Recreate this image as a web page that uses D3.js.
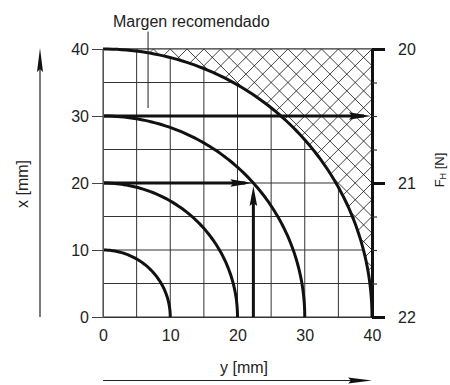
<!DOCTYPE html>
<html><head><meta charset="utf-8">
<script src="https://cdn.jsdelivr.net/npm/d3@7"></script>
<style>
body{margin:0;background:#fff}
text{font-family:"Liberation Sans",Arial,sans-serif;fill:#222}
</style>
</head><body><svg id="c" width="450" height="385"></svg>
<script>
// ---- data ----
const radii = [10, 20, 30, 40];
const gridValues = [0, 5, 10, 15, 20, 25, 30, 35, 40];
const yTickValues = [0, 10, 20, 30, 40];   // horizontal axis "y [mm]"
const xTickValues = [0, 10, 20, 30, 40];   // vertical axis "x [mm]"
const fhTickValues = [20, 21, 22];
const fhMinorValues = [20.25, 20.5, 20.75, 21.25, 21.5, 21.75];
const readX = [30, 20];          // horizontal reading arrows at x
const readYEnd = [40, 22.36];    // where they end (y)
const exampleY = [22.36];        // vertical reading arrow at y
const exampleXEnd = [20];
const hatchStep = 2.5;
const marginLabel = "Margen recomendado";
const pointerY = [6.7];
const pointerX = [31.2, 42.6];

// ---- scales ----
const sy = d3.scaleLinear().domain([0, 40]).range([103, 372]);
const sx = d3.scaleLinear().domain([0, 40]).range([317, 49]);
const fh = d3.scaleLinear().domain([20, 22]).range([49, 317]);

const svg = d3.select("#c");
const ink = "#111";

// grid
const g = svg.append("g").attr("stroke", "#333").attr("stroke-width", 1);
gridValues.forEach(v => {
  g.append("line").attr("x1", sy(v)).attr("x2", sy(v)).attr("y1", sx(0)).attr("y2", sx(40));
  g.append("line").attr("y1", sx(v)).attr("y2", sx(v)).attr("x1", sy(0)).attr("x2", sy(40));
});

// hatched region (outside circle of radius 40, inside square)
const R = d3.max(radii);
const angles = d3.range(0, 91, 1).map(a => a * Math.PI / 180);
const arcPts = angles.map(t => [R * Math.sin(t), R * Math.cos(t)]); // [y, x]
const regionPts = [[0, 40], [40, 40], [40, 0]].concat(arcPts.slice().reverse());
const toPx = p => [sy(p[0]), sx(p[1])];
const regionPath = d3.line()(regionPts.map(toPx)) + "Z";
svg.append("clipPath").attr("id", "hclip").append("path").attr("d", regionPath);
svg.append("path").attr("d", regionPath).attr("fill", "#fff");
const hg = svg.append("g").attr("clip-path", "url(#hclip)").attr("stroke", ink).attr("stroke-width", 0.8);
for (let k = -20; k <= 20; k++) {
  const d1 = k * hatchStep;
  hg.append("line").attr("x1", sy(-10)).attr("y1", sx(-10 + d1)).attr("x2", sy(50)).attr("y2", sx(50 + d1));
}
for (let k = 0; k <= 40; k++) {
  const s = k * hatchStep;
  hg.append("line").attr("x1", sy(-10)).attr("y1", sx(s + 10)).attr("x2", sy(50)).attr("y2", sx(s - 50));
}
// top border across hatch
svg.append("line").attr("x1", sy(0)).attr("x2", sy(40)).attr("y1", sx(40)).attr("y2", sx(40))
  .attr("stroke", "#333").attr("stroke-width", 1);

// circles
const lineGen = d3.line().x(d => sy(d[0])).y(d => sx(d[1]));
radii.forEach(r => {
  const pts = angles.map(t => [r * Math.sin(t), r * Math.cos(t)]);
  svg.append("path").attr("d", lineGen(pts)).attr("fill", "none")
    .attr("stroke", ink).attr("stroke-width", 3);
});

// arrowhead helper (pixel tip, direction)
function head(tx, ty, dx, dy, len, w) {
  const bx = tx - dx * len, by = ty - dy * len;
  const nx = -dy, ny = dx;
  return `M${tx},${ty}L${bx + nx * w},${by + ny * w}L${bx + dx * 3},${by + dy * 3}L${bx - nx * w},${by - ny * w}Z`;
}

// reading arrows
readX.forEach((xv, i) => {
  const x1 = sy(0), x2 = sy(readYEnd[i]), yy = sx(xv);
  svg.append("line").attr("x1", x1).attr("x2", x2 - 8).attr("y1", yy).attr("y2", yy)
    .attr("stroke", ink).attr("stroke-width", 3);
  svg.append("path").attr("d", head(x2 - 1, yy, 1, 0, 22, 3.8)).attr("fill", ink);
});
exampleY.forEach((yv, i) => {
  const xx = sy(yv), y1 = sx(0), y2 = sx(exampleXEnd[i]) + 3;
  svg.append("line").attr("x1", xx).attr("x2", xx).attr("y1", y1).attr("y2", y2 + 8)
    .attr("stroke", ink).attr("stroke-width", 3);
  svg.append("path").attr("d", head(xx, y2, 0, -1, 20, 3.8)).attr("fill", ink);
});

// margin pointer + label
svg.append("line").attr("x1", sy(pointerY[0])).attr("x2", sy(pointerY[0]))
  .attr("y1", sx(pointerX[0])).attr("y2", sx(pointerX[1])).attr("stroke", "#222").attr("stroke-width", 1);
svg.append("text").attr("x", 113).attr("y", 27).attr("font-size", 16).text(marginLabel);

// left axis
const la = svg.append("g").attr("transform", `translate(${sy(0)},0)`)
  .call(d3.axisLeft(sx).tickValues(xTickValues).tickSize(11).tickSizeOuter(0).tickPadding(3));
la.select(".domain").attr("stroke", "#555");
la.selectAll(".tick line").attr("stroke", "#444");
la.selectAll("text").attr("font-size", 16).attr("font-family", null);

// bottom axis
const ba = svg.append("g").attr("transform", `translate(0,${sx(0)})`)
  .call(d3.axisBottom(sy).tickValues(yTickValues).tickSize(0).tickPadding(13));
ba.select(".domain").attr("stroke", "#333");
ba.selectAll("text").attr("font-size", 16).attr("font-family", null);

// right axis F_H
const ra = svg.append("g").attr("transform", `translate(${sy(40)},0)`)
  .call(d3.axisRight(fh).tickValues(fhTickValues).tickFormat(d3.format("d"))
    .tickSize(13).tickSizeOuter(0).tickPadding(13));
ra.select(".domain").attr("stroke", ink).attr("stroke-width", 3);
ra.selectAll(".tick line").attr("stroke", ink).attr("stroke-width", 3);
ra.selectAll("text").attr("font-size", 16).attr("font-family", null);
const rm = svg.append("g").attr("transform", `translate(${sy(40)},0)`)
  .call(d3.axisRight(fh).tickValues(fhMinorValues).tickSize(5).tickFormat(""));
rm.select(".domain").remove();
rm.selectAll(".tick line").attr("stroke", "#333").attr("stroke-width", 1.2);

// axis direction arrows
svg.append("line").attr("x1", 40).attr("x2", 40).attr("y1", sx(0)).attr("y2", sx(40) + 10)
  .attr("stroke", "#222").attr("stroke-width", 1.2);
svg.append("path").attr("d", head(40, sx(40) - 1, 0, -1, 24, 3)).attr("fill", "#111");
svg.append("line").attr("x1", sy(0)).attr("x2", sy(40) - 10).attr("y1", 380.5).attr("y2", 380.5)
  .attr("stroke", "#222").attr("stroke-width", 1.2);
svg.append("path").attr("d", head(sy(40), 380.5, 1, 0, 24, 3)).attr("fill", "#111");

// axis titles
svg.append("text").attr("transform", "translate(28,184) rotate(-90)").attr("text-anchor", "middle")
  .attr("font-size", 16).text("x [mm]");
svg.append("text").attr("x", 244).attr("y", 373).attr("text-anchor", "middle")
  .attr("font-size", 16).text("y [mm]");
const ft = svg.append("text").attr("transform", "translate(444,170) rotate(-90)").attr("text-anchor", "middle")
  .attr("font-size", 13);
ft.append("tspan").text("F");
ft.append("tspan").attr("font-size", 9).attr("dy", 2).text("H");
ft.append("tspan").attr("dy", -2).text(" [N]");
</script></body></html>
